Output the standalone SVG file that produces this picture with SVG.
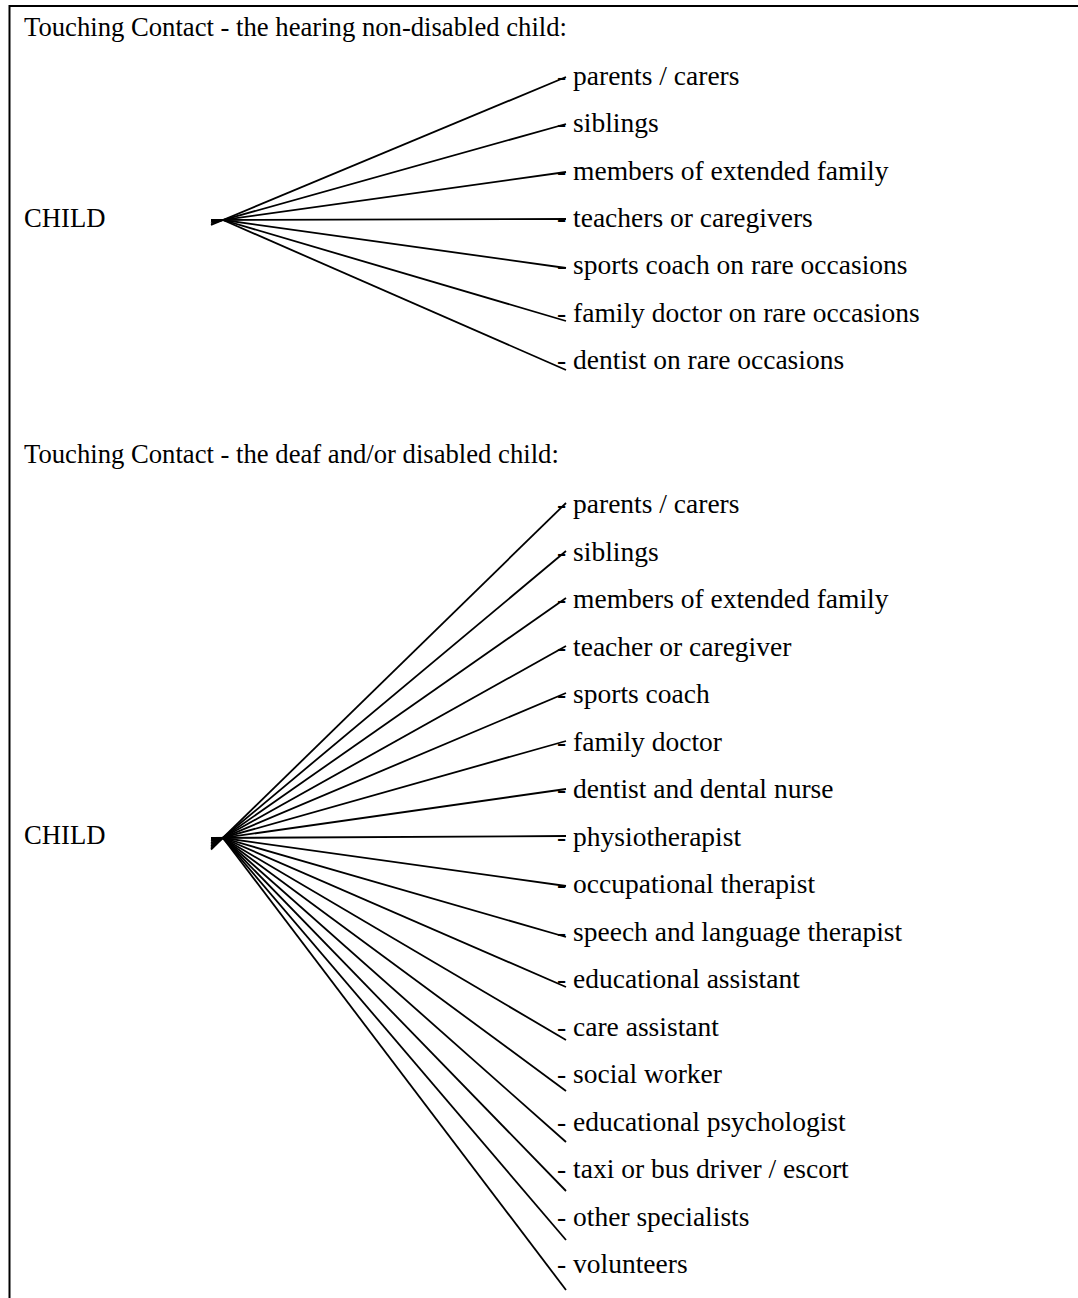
<svg xmlns="http://www.w3.org/2000/svg" width="1078" height="1298" viewBox="0 0 1078 1298">
<style>
text{font-family:"Liberation Serif","Times New Roman",serif;font-size:26.67px;fill:#000}
.l text{font-size:27.5px}
.c line{stroke:#000;stroke-width:1.8;fill:none}
.b{stroke:#000;stroke-width:2;fill:none}
</style>
<rect width="1078" height="1298" fill="#fff"/>
<path class="b" d="M9.5,1298 V6 H1078"/>
<g id="title1"><text x="24" y="36">Touching Contact - the hearing non-disabled child:</text></g>
<g id="child1"><text x="24" y="227">CHILD</text></g>
<g class="l">
<g id="n1-1"><text x="557" y="85">- parents / carers</text></g>
<g id="n1-2"><text x="557" y="132">- siblings</text></g>
<g id="n1-3"><text x="557" y="179.5">- members of extended family</text></g>
<g id="n1-4"><text x="557" y="227">- teachers or caregivers</text></g>
<g id="n1-5"><text x="557" y="274">- sports coach on rare occasions</text></g>
<g id="n1-6"><text x="557" y="321.5">- family doctor on rare occasions</text></g>
<g id="n1-7"><text x="557" y="369">- dentist on rare occasions</text></g>
</g>
<g id="title2"><text x="24" y="463">Touching Contact - the deaf and/or disabled child:</text></g>
<g id="child2"><text x="24" y="844">CHILD</text></g>
<g class="l">
<g id="n2-1"><text x="557" y="513">- parents / carers</text></g>
<g id="n2-2"><text x="557" y="560.5">- siblings</text></g>
<g id="n2-3"><text x="557" y="608">- members of extended family</text></g>
<g id="n2-4"><text x="557" y="655.5">- teacher or caregiver</text></g>
<g id="n2-5"><text x="557" y="703">- sports coach</text></g>
<g id="n2-6"><text x="557" y="750.5">- family doctor</text></g>
<g id="n2-7"><text x="557" y="798">- dentist and dental nurse</text></g>
<g id="n2-8"><text x="557" y="845.5">- physiotherapist</text></g>
<g id="n2-9"><text x="557" y="893">- occupational therapist</text></g>
<g id="n2-10"><text x="557" y="940.5">- speech and language therapist</text></g>
<g id="n2-11"><text x="557" y="988">- educational assistant</text></g>
<g id="n2-12"><text x="557" y="1035.5">- care assistant</text></g>
<g id="n2-13"><text x="557" y="1083">- social worker</text></g>
<g id="n2-14"><text x="557" y="1130.5">- educational psychologist</text></g>
<g id="n2-15"><text x="557" y="1178">- taxi or bus driver / escort</text></g>
<g id="n2-16"><text x="557" y="1225.5">- other specialists</text></g>
<g id="n2-17"><text x="557" y="1273">- volunteers</text></g>
</g>
<g id="connectors" class="c">
<line x1="211" y1="225" x2="566" y2="77"/>
<line x1="211" y1="223.4" x2="566" y2="124"/>
<line x1="211" y1="221.7" x2="566" y2="172"/>
<line x1="211" y1="220" x2="566" y2="219"/>
<line x1="223" y1="220" x2="566" y2="268"/>
<line x1="223" y1="220" x2="566" y2="321"/>
<line x1="223" y1="220" x2="566" y2="370"/>
<line x1="211" y1="849.5" x2="566" y2="503"/>
<line x1="211" y1="847.8" x2="566" y2="551"/>
<line x1="211" y1="846.2" x2="566" y2="598"/>
<line x1="211" y1="844.5" x2="566" y2="646"/>
<line x1="211" y1="842.9" x2="566" y2="693"/>
<line x1="211" y1="841.2" x2="566" y2="741"/>
<line x1="211" y1="839.6" x2="566" y2="789"/>
<line x1="211" y1="838" x2="566" y2="836"/>
<line x1="223" y1="838" x2="566" y2="886"/>
<line x1="223" y1="838" x2="566" y2="937"/>
<line x1="223" y1="838" x2="566" y2="987"/>
<line x1="223" y1="838" x2="566" y2="1040"/>
<line x1="223" y1="838" x2="566" y2="1091"/>
<line x1="223" y1="838" x2="566" y2="1142"/>
<line x1="223" y1="838" x2="566" y2="1191"/>
<line x1="223" y1="838" x2="566" y2="1240"/>
<line x1="223" y1="838" x2="566" y2="1290"/>
</g>
</svg>
